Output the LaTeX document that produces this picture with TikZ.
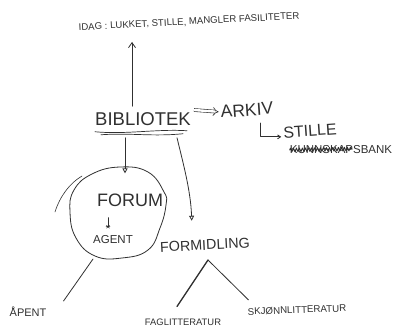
\documentclass[tikz,border=0pt]{standalone}
\usepackage{fontspec}
\setmainfont{Liberation Sans}
\usetikzlibrary{arrows.meta,decorations.pathmorphing}
\definecolor{pen}{HTML}{303030}
\begin{document}
\begin{tikzpicture}[x=1pt,y=1pt,
  ink/.style={draw=pen, line width=0.8pt, line cap=round, line join=round},
  txt/.style={text=pen, inner sep=0pt},
  upar/.style={ink, -{Straight Barb[length=5pt,width=7pt]}},
  downar/.style={ink, -{Triangle[open,length=5pt,width=5pt]}},
  smallar/.style={ink, -{Straight Barb[length=3pt,width=4pt]}}]
\fill[white] (0,0) rectangle (403,-331);
\useasboundingbox (0,0) rectangle (403,-331);

% texts
\node[txt,font=\fontsize{9.6}{11}\selectfont,rotate=3] (idag) at (189,-22) {IDAG : LUKKET, STILLE, MANGLER FASILITETER};
\node[txt,font=\fontsize{18.5}{22}\selectfont] (bib) at (143,-119) {BIBLIOTEK};
\node[txt,font=\fontsize{17.5}{20}\selectfont,rotate=4] (arkiv) at (247,-110) {ARKIV};
\node[txt,font=\fontsize{16}{19}\selectfont,rotate=4] (stille) at (310,-131) {STILLE};
\node[txt,font=\fontsize{11.5}{13}\selectfont] (kb) at (341,-150) {KUNNSKAPSBANK};
\node[txt,font=\fontsize{18}{21}\selectfont] (forum) at (130,-200) {FORUM};
\node[txt,font=\fontsize{11.5}{13}\selectfont] (agent) at (113,-240) {AGENT};
\node[txt,font=\fontsize{14.3}{17}\selectfont,rotate=3] (form) at (205,-245) {FORMIDLING};
\node[txt,font=\fontsize{11}{13}\selectfont] (apent) at (28,-312) {ÅPENT};
\node[txt,font=\fontsize{9.4}{11}\selectfont] (fag) at (183,-322) {FAGLITTERATUR};
\node[txt,font=\fontsize{9.7}{11}\selectfont,rotate=2] (skj) at (297,-310) {SKJØNNLITTERATUR};

% coordinates
\coordinate (uptip) at (132,-42);
\coordinate (lcorner) at (260,-123);
\coordinate (circbot) at (93,-259);
\coordinate (apex) at (208,-260);

% arrow up to top text
\draw[upar] ([shift={(-11,6)}]bib.north) -- (uptip);

% wavy double underline
\draw[ink, line width=0.7pt] ([shift={(0,-6)}]bib.south west) .. controls +(30,-3) and +(-30,2) .. ([shift={(-4,-5)}]bib.south east);
\draw[ink, line width=0.7pt] ([shift={(6,-9)}]bib.south west) .. controls +(30,2) and +(-30,-3) .. ([shift={(-8,-8)}]bib.south east);

% double arrow to ARKIV
\draw[draw=pen, line width=0.6pt, double, double distance=2.4pt, -{Implies[length=4pt]}] ([shift={(3,9)}]bib.east) -- ([shift={(-2,0)}]arkiv.west);

% L arrow to STILLE
\draw[smallar] (lcorner) |- ([shift={(-2,-4)}]stille.west);

% strike-through scribble on KUNNSKAPSBANK
\draw[ink, line width=0.9pt, decorate, decoration={zigzag, amplitude=1.8pt, segment length=3pt}] ([shift={(0,0)}]kb.west) -- ([shift={(-40,1)}]kb.east);

% down arrows from BIBLIOTEK
\draw[downar] ([shift={(-18,-12)}]bib.south) -- ([shift={(-5,20)}]forum.north);
\draw[downar] ([shift={(34,-12)}]bib.south) .. controls +(6,-25) and +(-1,30) .. ([shift={(-13,19)}]form.north);

% circle around FORUM / AGENT
\draw[ink] plot[smooth cycle, tension=0.75] coordinates {(74,-190) (92,-174) (120,-167) (148,-172) (164,-192) (166,-205) (160,-228) (148,-250) (122,-258) (95,-256) (76,-238) (70,-212)};
\draw[ink, line width=0.6pt] (55,-212) .. controls (60,-196) and (70,-183) .. (82,-176);

% FORUM -> AGENT with star
\draw[ink, line width=0.6pt] ([shift={(-22,-11)}]forum.south) -- ([shift={(-5,9)}]agent.north);
\draw[ink, line width=0.5pt] ([shift={(-7,9)}]agent.north) -- ([shift={(-3,9)}]agent.north)
  ([shift={(-6.5,7.5)}]agent.north) -- ([shift={(-3.5,10.5)}]agent.north)
  ([shift={(-6.5,10.5)}]agent.north) -- ([shift={(-3.5,7.5)}]agent.north);

% line to APENT
\draw[ink] (circbot) -- ([shift={(17,6)}]apent.north east);

% wedge to FAG / SKJ
\draw[ink, line width=1.3pt] (apex) -- ([shift={(-6,12)}]fag.north);
\draw[ink] (apex) -- ([shift={(1,8)}]skj.north west);
\end{tikzpicture}
\end{document}
